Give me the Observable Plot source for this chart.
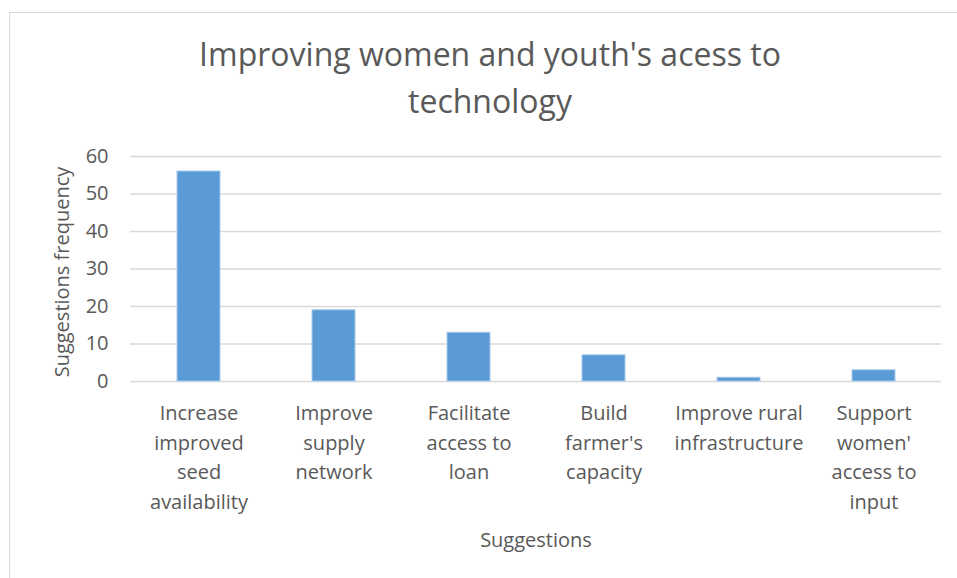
<!DOCTYPE html>
<html>
<head>
<meta charset="utf-8">
<script src="https://cdn.jsdelivr.net/npm/d3@7"></script>
<script src="https://cdn.jsdelivr.net/npm/@observablehq/plot@0.6"></script>
<style>
  html, body { margin: 0; padding: 0; background: #fff; }
  body { width: 957px; height: 578px; position: relative; overflow: hidden; font-family: "Open Sans", sans-serif; color: #595959; }
  #chart { position: absolute; left: 0; top: 0; }
  .abs { position: absolute; white-space: nowrap; }
  #frame { position: absolute; left: 9px; top: 12px; width: 980px; height: 600px; border: 1.5px solid #d9d9d9; box-sizing: border-box; }
  #title { left: 140px; width: 700px; top: 30px; font-size: 32px; line-height: 47px; text-align: center; white-space: normal; }
  #ylabel { left: 62px; top: 272px; font-size: 20px; line-height: 20px; transform: translate(-50%, -50%) rotate(-90deg); }
  #xlabel { left: 536px; top: 530px; font-size: 20px; line-height: 20px; transform: translateX(-50%); }
</style>
</head>
<body>
<div id="frame"></div>
<div id="chart"></div>
<div id="title" class="abs">Improving women and youth's acess to<br>technology</div>
<div id="ylabel" class="abs">Suggestions frequency</div>
<div id="xlabel" class="abs">Suggestions</div>
<script>
const categories = [
  "Increase\nimproved\nseed\navailability",
  "Improve\nsupply\nnetwork",
  "Facilitate\naccess to\nloan",
  "Build\nfarmer's\ncapacity",
  "Improve rural\ninfrastructure",
  "Support\nwomen'\naccess to\ninput"
];
const frequency = [56, 19, 13, 7, 1, 3];
const yTicks = [0, 10, 20, 30, 40, 50, 60];

const data = categories.map((c, i) => ({category: c, value: frequency[i]}));

const chart = Plot.plot({
  width: 957,
  height: 578,
  marginLeft: 130,
  marginRight: 16,
  marginTop: 156,
  marginBottom: 197,
  style: {fontFamily: "Open Sans, sans-serif", color: "#595959", background: "transparent", overflow: "visible"},
  x: {domain: categories, paddingInner: 0.685, paddingOuter: 0.3425, label: null},
  y: {domain: [0, 60], label: null},
  marks: [
    Plot.gridY(yTicks, {stroke: "#d9d9d9", strokeOpacity: 1, strokeWidth: 1.5}),
    Plot.barY(data, {x: "category", y: "value", fill: "#5b9bd5", stroke: "#a9cbeb", strokeWidth: 1}),
    Plot.axisY(yTicks, {tickSize: 0, tickPadding: 22, fontSize: 20, label: null}),
    Plot.axisX({tickSize: 0, tickPadding: 18, fontSize: 20, lineHeight: 1.47, label: null})
  ]
});
document.getElementById("chart").appendChild(chart);
</script>
</body>
</html>
